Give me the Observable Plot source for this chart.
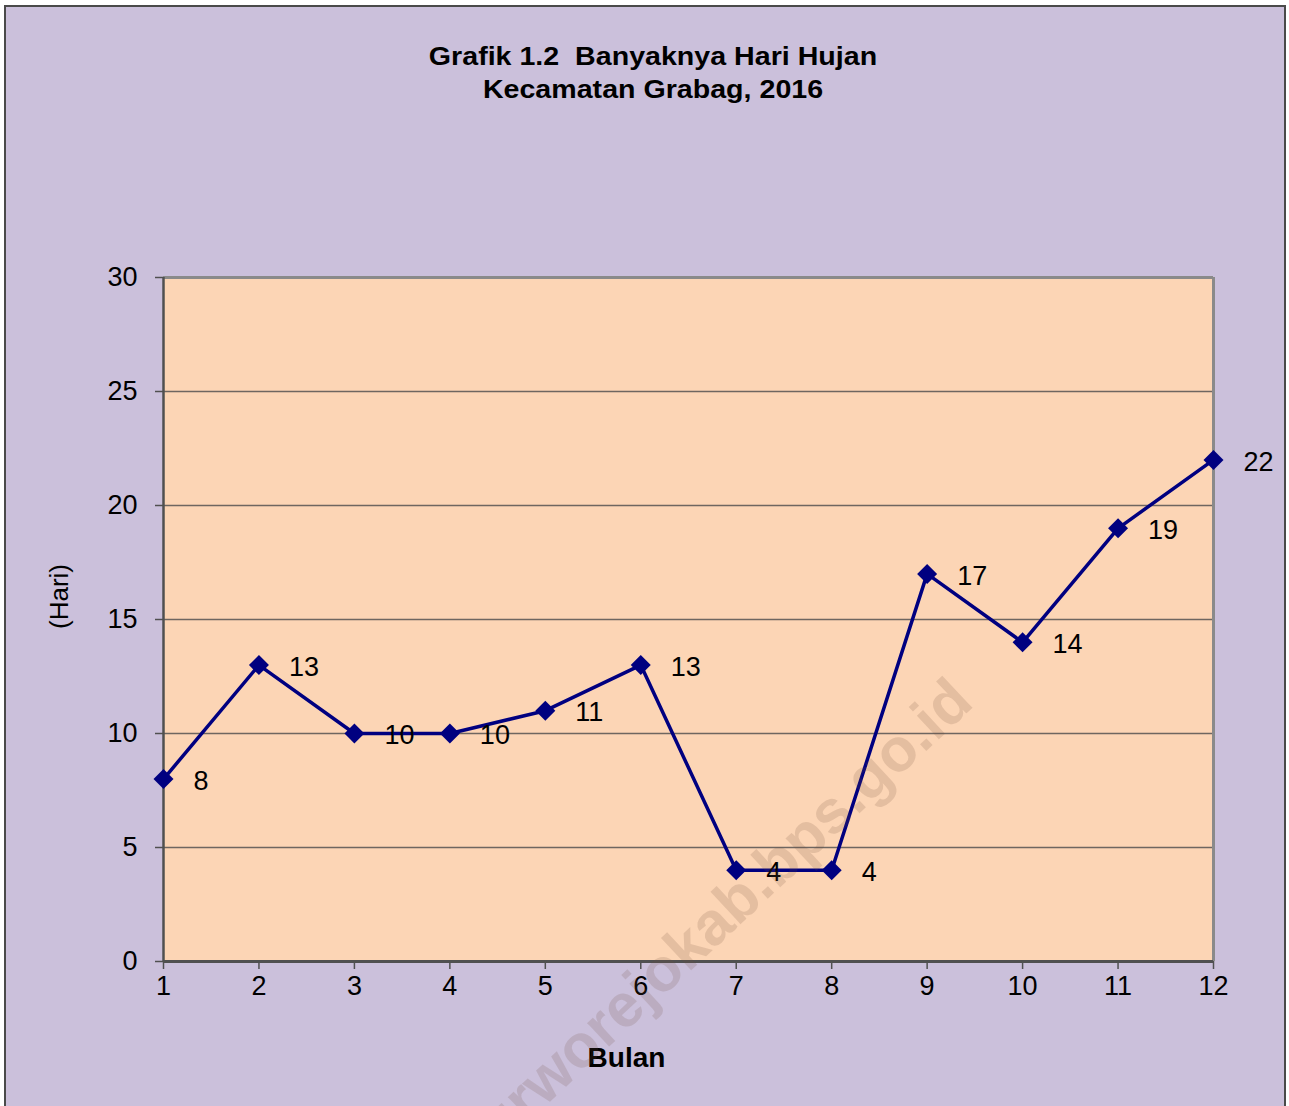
<!DOCTYPE html>
<html>
<head>
<meta charset="utf-8">
<script src="https://cdn.jsdelivr.net/npm/d3@7"></script>
<script src="https://cdn.jsdelivr.net/npm/@observablehq/plot@0.6"></script>
<style>
  html, body { margin: 0; padding: 0; background: #ffffff; overflow: hidden; }
  body { width: 1289px; height: 1106px; position: relative; font-family: "Liberation Sans", Arial, sans-serif; }
  #bg { position: absolute; left: 4px; top: 5px; width: 1282px; height: 1130px; border: 2px solid #4a4a4a; background: #CBC0DB; box-sizing: border-box; }
  #title { position: absolute; left: 0; top: 40px; width: 1306px; text-align: center; font-weight: bold; font-size: 26px; line-height: 33px; color: #000; transform: scaleX(1.1); transform-origin: 653px 0; }
  #chart { position: absolute; left: 0; top: 0; }
</style>
</head>
<body>
<div id="bg"></div>
<div id="title">Grafik 1.2&nbsp; Banyaknya Hari Hujan<br>Kecamatan Grabag, 2016</div>
<div id="chart"></div>
<script>
// ---- data ----
const months = [1, 2, 3, 4, 5, 6, 7, 8, 9, 10, 11, 12];
const hari = [8, 13, 10, 10, 11, 13, 4, 4, 17, 14, 19, 22];
const yTicks = [0, 5, 10, 15, 20, 25, 30];
const gridValues = [5, 10, 15, 20, 25];
const xLabel = "Bulan";
const yLabel = "(Hari)";
const watermark = "purworejokab.bps.go.id";

const data = months.map((m, i) => ({ bulan: m, hari: hari[i] }));
const font = "'Liberation Sans', Arial, sans-serif";

const chart = Plot.plot({
  width: 1289,
  height: 1106,
  marginLeft: 163,
  marginRight: 76,
  marginTop: 277,
  marginBottom: 145,
  style: { background: "transparent", fontFamily: font, overflow: "visible" },
  x: { domain: [1, 12] },
  y: { domain: [0, 30] },
  marks: [
    Plot.frame({ fill: "#FCD5B5", stroke: null }),
    Plot.ruleY(gridValues, { stroke: "#6E6660", strokeWidth: 1.5 }),
    Plot.ruleY([30], { stroke: "#8A8A8A", strokeWidth: 3 }),
    Plot.ruleX([12], { stroke: "#8A8A8A", strokeWidth: 3 }),
    Plot.ruleX([1], { stroke: "#505050", strokeWidth: 2.5 }),
    Plot.ruleY([0], { stroke: "#505050", strokeWidth: 3 }),
    Plot.axisY({ ticks: yTicks, tickSize: 8, tickPadding: 18, fontSize: 27, label: null, stroke: "#505050", strokeWidth: 1.5, color: "#000" }),
    Plot.axisX({ ticks: months, tickFormat: d => String(d), tickSize: 8, tickPadding: 6, fontSize: 27, label: null, stroke: "#505050", strokeWidth: 1.5, color: "#000" }),
    Plot.line(data, { x: "bulan", y: "hari", stroke: "#000080", strokeWidth: 3.5 }),
    Plot.dot(data, { x: "bulan", y: "hari", symbol: "diamond2", r: 9, fill: "#000080", stroke: null }),
    Plot.text(data, { x: "bulan", y: "hari", text: d => String(d.hari), textAnchor: "start", dx: 30, dy: 2, fontSize: 27, fill: "#000" }),
    Plot.text([yLabel], { frameAnchor: "left", dx: -104, dy: -23, rotate: -90, fontSize: 26, fill: "#000", textAnchor: "middle" }),
    Plot.text([xLabel], { frameAnchor: "bottom", dx: -62, dy: 105, fontSize: 28, fontWeight: "bold", fill: "#000" }),
    Plot.text([watermark], { frameAnchor: "middle", dx: 22, dy: 306, rotate: -43, fontSize: 61, fontWeight: "bold", fill: "rgb(110,80,60)", fillOpacity: 0.17 })
  ]
});
document.getElementById("chart").appendChild(chart);
</script>
</body>
</html>
